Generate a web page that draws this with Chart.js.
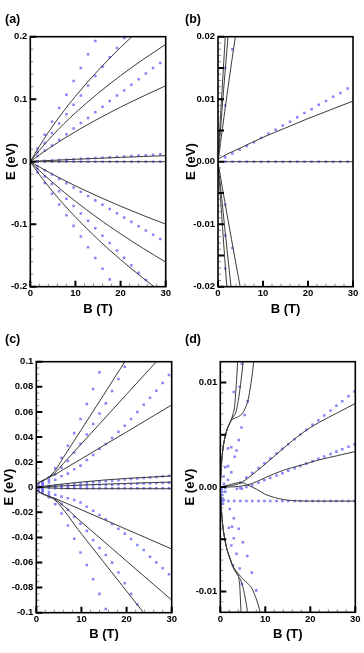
<!DOCTYPE html>
<html>
<head>
<meta charset="utf-8">
<script src="https://cdn.jsdelivr.net/npm/chart.js@4.4.1/dist/chart.umd.min.js"></script>
<style>
  html, body { margin: 0; padding: 0; background: #fff; }
  #wrap { position: relative; width: 364px; height: 653px; overflow: hidden; }
  .pane { position: absolute; }
  .tag { position: absolute; font: bold 12.5px "Liberation Sans", Arial, sans-serif; line-height: 1; color: #000; }
</style>
</head>
<body>
<div id="wrap">
  <div class="pane" style="left:0;top:0"><canvas id="ca" width="182" height="320"></canvas></div>
  <div class="pane" style="left:182px;top:0"><canvas id="cb" width="182" height="320"></canvas></div>
  <div class="pane" style="left:0;top:320px"><canvas id="cc" width="182" height="333"></canvas></div>
  <div class="pane" style="left:182px;top:320px"><canvas id="cd" width="182" height="333"></canvas></div>
  <div class="tag" style="left:5px;top:13px">(a)</div>
  <div class="tag" style="left:185px;top:13px">(b)</div>
  <div class="tag" style="left:5px;top:333px">(c)</div>
  <div class="tag" style="left:185px;top:333px">(d)</div>
</div>
<script>
// ---- axis ticks / labels ----
const xTicks = [0, 10, 20, 30];
const xLabels = ["0", "10", "20", "30"];
const yTicksA = [-0.2, -0.1, 0, 0.1, 0.2];
const yLabelsA = ["-0.2", "-0.1", "0", "0.1", "0.2"];
const yTicksB = [-0.02, -0.01, 0, 0.01, 0.02];
const yLabelsB = ["-0.02", "-0.01", "0.00", "0.01", "0.02"];
const yTicksC = [-0.1, -0.08, -0.06, -0.04, -0.02, 0, 0.02, 0.04, 0.06, 0.08, 0.1];
const yLabelsC = ["-0.1", "-0.08", "-0.06", "-0.04", "-0.02", "0", "0.02", "0.04", "0.06", "0.08", "0.1"];
const yTicksD = [-0.01, 0, 0.01];
const yLabelsD = ["-0.01", "0.00", "0.01"];

// ---- panels (a) and (b): same data, (b) is a zoom of (a) ----
const aB = [1.6, 3.2, 4.8, 6.4, 8.0, 9.6, 11.2, 12.8, 14.4, 16.0, 17.6, 19.2, 20.8, 22.4, 24.0, 25.6, 27.2, 28.8];
const aDotUp1 = [0.021, 0.043, 0.064, 0.086, 0.107, 0.129, 0.150, 0.172, 0.193];
const aDotUp2 = [0.015, 0.030, 0.046, 0.061, 0.076, 0.091, 0.106, 0.122, 0.137, 0.152, 0.167, 0.182, 0.198];
const aDotUp3 = [0.009, 0.018, 0.026, 0.035, 0.044, 0.053, 0.062, 0.070, 0.079, 0.088, 0.097, 0.106, 0.114, 0.123, 0.132, 0.141, 0.150, 0.158];
const aDotMid1 = [0.0007, 0.0013, 0.0019, 0.0025, 0.0031, 0.0038, 0.0045, 0.0051, 0.0058, 0.0064, 0.0071, 0.0078, 0.0084, 0.0091, 0.0097, 0.0104, 0.0110, 0.0117];
const aDotMid0 = [0, 0, 0, 0, 0, 0, 0, 0, 0, 0, 0, 0, 0, 0, 0, 0, 0, 0];
const aDotDn1 = [-0.0069, -0.0138, -0.0206, -0.0275, -0.0344, -0.0413, -0.0482, -0.0550, -0.0619, -0.0688, -0.0757, -0.0826, -0.0894, -0.0963, -0.1032, -0.1101, -0.1170, -0.1238];
const aDotDn2 = [-0.0118, -0.0237, -0.0355, -0.0474, -0.0592, -0.0710, -0.0829, -0.0947, -0.1066, -0.1184, -0.1302, -0.1421, -0.1539, -0.1658, -0.1776, -0.1894];
const aDotDn3 = [-0.0171, -0.0342, -0.0514, -0.0685, -0.0856, -0.1027, -0.1198, -0.1370, -0.1541, -0.1712, -0.1883];

const aLineUp1 = [[0, 0], [0.5, 0.0064], [1, 0.0126], [2, 0.0246], [3, 0.036], [5, 0.0574], [7.5, 0.082], [10, 0.1047], [15, 0.1459], [20, 0.1829], [25, 0.2167]];
const aLineUp2 = [[0, 0], [1, 0.0093], [2, 0.0181], [3, 0.0266], [5, 0.0425], [7.5, 0.061], [10, 0.0782], [15, 0.1094], [20, 0.1377], [25, 0.1636], [30, 0.1877]];
const aLineUp3 = [[0, 0], [1, 0.0054], [2, 0.0107], [3, 0.0158], [4, 0.0207], [5, 0.0255], [7.5, 0.0371], [10, 0.0481], [15, 0.0685], [20, 0.0873], [25, 0.1048], [30, 0.1215]];
const aLineMid1 = [[0, 0.0004], [2, 0.0012], [5, 0.0022], [10, 0.0039], [15, 0.0054], [20, 0.0069], [25, 0.0083], [30, 0.0097]];
const aLineMid0 = [[0, 0], [30, 0]];
const aLineDn1 = [[0, 0], [1, -0.0043], [2, -0.0084], [4, -0.0164], [5, -0.0203], [7.5, -0.0297], [10, -0.0387], [15, -0.0555], [20, -0.0712], [25, -0.086], [30, -0.0999]];
const aLineDn2 = [[0, 0], [1, -0.0071], [2, -0.014], [3, -0.0207], [5, -0.0336], [7.5, -0.0489], [10, -0.0634], [15, -0.0904], [20, -0.1154], [25, -0.1387], [30, -0.1606]];
const aLineDn3 = [[0, 0], [1, -0.0105], [2, -0.0204], [3, -0.03], [5, -0.0481], [7.5, -0.0691], [10, -0.0886], [15, -0.1244], [20, -0.1567], [25, -0.1864], [30, -0.214]];

// ---- panel (c) ----
const cB = [1.4, 2.8, 4.2, 5.6, 7.0, 8.4, 9.8, 11.2, 12.6, 14.0, 15.4, 16.8, 18.2, 19.6, 21.0, 22.4, 23.8, 25.2, 26.6, 28.0, 29.4];
const cDotUp1 = [0.004, 0.008, 0.015, 0.0235, 0.033, 0.0431, 0.0543, 0.0663, 0.0782, 0.0915];
const cDotUp2 = [0.003, 0.006, 0.0102, 0.0155, 0.0209, 0.0277, 0.0346, 0.042, 0.0503, 0.0588, 0.0668, 0.0766, 0.0862, 0.096];
const cDotUp3 = [0.002, 0.004, 0.006, 0.0087, 0.0108, 0.0143, 0.0172, 0.0217, 0.0257, 0.0304, 0.0344, 0.0392, 0.0442, 0.049, 0.0543, 0.0599, 0.0657, 0.0713, 0.0769, 0.083, 0.0894];
const cDotMid1 = [0.0004, 0.0009, 0.0013, 0.0017, 0.0022, 0.0026, 0.003, 0.0035, 0.0039, 0.0043, 0.0048, 0.0052, 0.0056, 0.0061, 0.0065, 0.0069, 0.0074, 0.0078, 0.0082, 0.0087, 0.0091];
const cDotMid2 = [0.0002, 0.0003, 0.0005, 0.0007, 0.0008, 0.001, 0.0012, 0.0013, 0.0015, 0.0017, 0.0018, 0.002, 0.0022, 0.0024, 0.0025, 0.0027, 0.0029, 0.003, 0.0032, 0.0034, 0.0035];
const cDotMid3 = [-0.0009, -0.0009, -0.0009, -0.0009, -0.0009, -0.0009, -0.0009, -0.0009, -0.0009, -0.0009, -0.0009, -0.0009, -0.0009, -0.0009, -0.0009, -0.0009, -0.0009, -0.0009, -0.0009, -0.0009, -0.0009];
const cDotDn1 = [-0.002, -0.004, -0.006, -0.0075, -0.0088, -0.0102, -0.0122, -0.0155, -0.0187, -0.0222, -0.0256, -0.0293, -0.0331, -0.037, -0.0413, -0.0461, -0.05, -0.0554, -0.0599, -0.0646, -0.0694];
const cDotDn2 = [-0.003, -0.006, -0.0095, -0.0135, -0.018, -0.0235, -0.0292, -0.0348, -0.042, -0.0485, -0.054, -0.0601, -0.068, -0.0765, -0.085, -0.0935];
const cDotDn3 = [-0.004, -0.008, -0.0135, -0.021, -0.0305, -0.041, -0.052, -0.062, -0.0734, -0.085, -0.097];
const cDotNear = [[0.5, 0.0025], [0.5, 0.0005], [0.5, -0.0015], [0.5, -0.003]];

const cLineUp1 = [[0, 0.0022], [1, 0.0045], [2, 0.0062], [3, 0.0088], [4, 0.0125], [6, 0.0237], [10, 0.046], [15, 0.074], [20, 0.1022]];
const cLineUp2 = [[0, 0.0022], [1, 0.0045], [2, 0.0062], [3, 0.0085], [4, 0.011], [6, 0.0189], [10, 0.0346], [15, 0.0543], [20, 0.074], [25, 0.0937], [30, 0.1134]];
const cLineUp3 = [[0, 0.0022], [1, 0.0045], [2, 0.0062], [3, 0.0082], [4, 0.0098], [6, 0.0141], [10, 0.0226], [15, 0.0334], [20, 0.044], [25, 0.0548], [30, 0.0655]];
const cLineMid1 = [[0, 0], [2, 0.0009], [5, 0.0022], [10, 0.0041], [15, 0.0057], [20, 0.007], [25, 0.008], [30, 0.0089]];
const cLineMid2 = [[0, 0], [2, 0.0004], [5, 0.0009], [10, 0.0017], [15, 0.0024], [20, 0.003], [25, 0.0036], [30, 0.0041]];
const cLineMid3 = [[0, 0], [3, -0.0006], [6, -0.001], [10, -0.0012], [20, -0.0012], [30, -0.0012]];
const cLineDn1 = [[0, -0.0022], [1, -0.0045], [2, -0.0062], [3, -0.0075], [4, -0.0088], [10, -0.018], [15, -0.0258], [20, -0.0336], [25, -0.0414], [30, -0.0492]];
const cLineDn2 = [[0, -0.0022], [1, -0.0045], [2, -0.0062], [3, -0.0077], [4, -0.0092], [10, -0.0278], [15, -0.0433], [20, -0.0589], [25, -0.0744], [30, -0.0899]];
const cLineDn3 = [[0, -0.0022], [1, -0.0045], [2, -0.0062], [3, -0.0079], [4, -0.0098], [10, -0.0372], [15, -0.06], [20, -0.0828], [25, -0.1056]];

// ---- panel (d) ----
const dB = [0.45, 1.8, 3.1, 4.45, 5.8, 7.1, 8.5, 9.8, 11.1, 12.5, 13.8, 15.1, 16.5, 17.8, 19.1, 20.5, 21.8, 23.1, 24.5, 25.8, 27.1, 28.5, 29.8];
const dDotFlat = [-0.00135, -0.00135, -0.00135, -0.00135, -0.00135, -0.00135, -0.00135, -0.00135, -0.00135, -0.00135, -0.00135, -0.00135, -0.00135, -0.00135, -0.00135, -0.00135, -0.00135, -0.00135, -0.00135, -0.00135, -0.00135, -0.00135, -0.00135];
const dDotUp = [0.00043, 0.0009, 0.00134, 0.00182, 0.00227, 0.00272, 0.0032, 0.00365, 0.00409, 0.00458, 0.00502, 0.00547, 0.00595, 0.0064, 0.00685, 0.00733, 0.00778, 0.00822, 0.0087, 0.00915];
const dDotLow = [-0.0001, 0.0, 0.00017, 0.00041, 0.00064, 0.00086, 0.0011, 0.00132, 0.00155, 0.00179, 0.00201, 0.00224, 0.00248, 0.0027, 0.00292, 0.00316, 0.00339, 0.00361, 0.00385, 0.00408];
const dDotNear = [
  [3.0, 0.0091], [4.3, 0.0096], [4.8, 0.0118], [6.1, 0.0082], [5.4, 0.0069], [4.7, 0.0057], [4.1, 0.0045],
  [2.45, 0.0038], [1.7, 0.0037], [3.6, 0.0035], [1.7, 0.002], [2.45, 0.0014], [3.2, 0.0029], [1.1, 0.0019],
  [1.7, 0.0007], [0.74, 0.001], [3.7, -0.00016], [4.8, -0.00016],
  [2.1, -0.0021], [3.0, -0.003], [1.9, -0.0039], [2.6, -0.0038], [4.1, -0.004], [3.0, -0.0049], [5.0, -0.0053],
  [2.45, -0.0056], [3.6, -0.0064], [6.0, -0.0066], [2.8, -0.0075], [4.3, -0.0078], [7.0, -0.0082], [4.8, -0.0093],
  [8.0, -0.0099], [0.45, -0.00045], [0.45, -0.00077], [0.45, -0.0011], [0.8, -0.00125], [1.1, -0.00045],
  [1.1, -0.0001], [0.6, -0.0016], [0.3, -0.0002], [0.8, 0.0003]
];

const dUpStem = [[0, 0], [0.15, 0.0015], [0.35, 0.0027], [0.6, 0.0037], [1.0, 0.0047], [1.5, 0.0055], [2.2, 0.0062]];
const dDnStem = [[0, 0], [0.15, -0.0015], [0.35, -0.0028], [0.6, -0.0039], [1.0, -0.005], [1.5, -0.006], [2.2, -0.0069], [2.6, -0.0074]];
const dLineUp1 = [...dUpStem, [2.7, 0.0068], [3.2, 0.0078], [3.5, 0.0095], [3.7, 0.0108], [3.9, 0.0125]];
const dLineUp2 = [...dUpStem, [2.8, 0.0067], [3.5, 0.0072], [4.0, 0.0083], [4.5, 0.0098], [4.9, 0.0113], [5.2, 0.0125]];
const dLineUp3 = [...dUpStem, [2.8, 0.0065], [3.8, 0.0067], [4.8, 0.007], [5.5, 0.0075], [6.2, 0.0084], [6.8, 0.0099], [7.3, 0.0115], [7.5, 0.0125]];
const dLineDn1 = [...dDnStem, [3.1, -0.0079], [3.6, -0.0082], [4.1, -0.0087], [4.35, -0.0097], [4.5, -0.011], [4.65, -0.0125]];
const dLineDn2 = [...dDnStem, [3.1, -0.0079], [3.8, -0.0084], [4.6, -0.009], [5.2, -0.0099], [5.6, -0.0108], [6.0, -0.0118], [6.2, -0.0125]];
const dLineDn3 = [...dDnStem, [3.1, -0.0078], [4.0, -0.0083], [5.0, -0.0088], [6.0, -0.0092], [7.0, -0.0097], [7.8, -0.0105], [8.5, -0.0114], [9.1, -0.0125]];
const dLineMid1 = [[0, 0], [2, 0.0001], [4, 0.0003], [6, 0.0008], [8, 0.0015], [10, 0.0022], [14, 0.0037], [18, 0.0051], [22, 0.0062], [26, 0.0071], [30, 0.008]];
const dLineMid2 = [[0, 0], [2, 0], [4, 0.00005], [6, 0.0002], [8, 0.0005], [10, 0.0009], [14, 0.0016], [18, 0.0021], [22, 0.0026], [26, 0.003], [30, 0.0034]];
const dLineMid3 = [[0, 0], [2, 0.0002], [4, 0.0004], [5, 0.0004], [6, 0.0002], [8, -0.0002], [10, -0.0007], [12, -0.001], [14, -0.0012], [16, -0.0013], [20, -0.00135], [30, -0.00135]];

// ---- styling ----
const FAMILY = "'Liberation Sans', Arial, sans-serif";
const LINE_COLOR = "#3a3a3a";
const DOT_COLOR = "rgba(88, 88, 242, 0.72)";
const tickFont = { family: FAMILY, size: 9.5, weight: "bold" };
const titleFont = { family: FAMILY, size: 13, weight: "bold", lineHeight: 1.2 };

// frame plus inward major/minor ticks, placed through the chart's own scales
const frameTicks = {
  id: "frameTicks",
  afterDatasetsDraw(chart, args, opts) {
    const { ctx, chartArea: a } = chart;
    const xs = chart.scales.x, ys = chart.scales.y;
    const each = (scale, step, fn) => {
      let v = Math.ceil(scale.min / step - 1e-6) * step;
      for (; v <= scale.max + 1e-9; v += step) fn(scale.getPixelForValue(v));
    };
    ctx.save();
    ctx.strokeStyle = "#8c8c8c";
    ctx.lineWidth = 1;
    ctx.beginPath();
    each(xs, opts.xMinor, (p) => { ctx.moveTo(p, a.bottom); ctx.lineTo(p, a.bottom - 3); });
    each(ys, opts.yMinor, (p) => { ctx.moveTo(a.left, p); ctx.lineTo(a.left + 3, p); });
    ctx.stroke();
    ctx.strokeStyle = "#000";
    ctx.lineWidth = 2;
    ctx.beginPath();
    each(xs, opts.xMajor, (p) => { ctx.moveTo(p, a.bottom); ctx.lineTo(p, a.bottom - 6); });
    each(ys, opts.yMajor, (p) => { ctx.moveTo(a.left, p); ctx.lineTo(a.left + 6, p); });
    ctx.stroke();
    ctx.lineWidth = 1.6;
    ctx.strokeRect(a.left, a.top, a.right - a.left, a.bottom - a.top);
    ctx.restore();
  },
};
Chart.register(frameTicks);

const dots = (bs, es) => ({
  data: es.map((e, i) => ({ x: bs[i], y: e })),
  showLine: false,
  pointStyle: "rect",
  pointRadius: 1.8,
  backgroundColor: DOT_COLOR,
  borderWidth: 0,
  order: 2,
});
const pairDots = (pts) => ({
  data: pts.map(([x, y]) => ({ x, y })),
  showLine: false,
  pointStyle: "rect",
  pointRadius: 1.8,
  backgroundColor: DOT_COLOR,
  borderWidth: 0,
  order: 2,
});
const curve = (pts) => ({
  data: pts.map(([x, y]) => ({ x, y })),
  showLine: true,
  pointRadius: 0,
  borderColor: LINE_COLOR,
  borderWidth: 1,
  cubicInterpolationMode: "monotone",
  fill: false,
  order: 1,
});

function panel(id, cfg) {
  return new Chart(document.getElementById(id), {
    type: "scatter",
    data: { datasets: cfg.datasets },
    options: {
      responsive: false,
      animation: false,
      events: [],
      layout: { padding: cfg.pad },
      plugins: {
        legend: { display: false },
        tooltip: { enabled: false },
        frameTicks: { xMajor: 10, xMinor: 2, yMajor: cfg.yMajor, yMinor: cfg.yMinor },
      },
      scales: {
        x: {
          type: "linear",
          min: 0,
          max: 30,
          afterBuildTicks: (s) => { s.ticks = xTicks.map((v) => ({ value: v })); },
          afterFit: (s) => { s.height = cfg.xHeight; },
          grid: { display: false, drawTicks: false },
          border: { display: false },
          ticks: { font: tickFont, color: "#000", padding: 1, maxRotation: 0, autoSkip: false,
                   callback: (v, i) => xLabels[i] },
          title: { display: true, text: "B (T)", font: titleFont, color: "#000",
                   padding: { top: 0, bottom: cfg.xTitlePad } },
        },
        y: {
          type: "linear",
          min: cfg.yMin,
          max: cfg.yMax,
          afterBuildTicks: (s) => { s.ticks = cfg.yTicks.map((v) => ({ value: v })); },
          afterFit: (s) => { s.width = cfg.yWidth; },
          grid: { display: false, drawTicks: false },
          border: { display: false },
          ticks: { font: tickFont, color: "#000", padding: 3, autoSkip: false,
                   callback: (v, i) => cfg.yLabels[i] },
          title: { display: true, text: "E (eV)", font: titleFont, color: "#000",
                   padding: { top: 0, bottom: 0 } },
        },
      },
    },
  });
}

const abDatasets = () => [
  dots(aB, aDotUp1), dots(aB, aDotUp2), dots(aB, aDotUp3),
  dots(aB, aDotMid1), dots(aB, aDotMid0),
  dots(aB, aDotDn1), dots(aB, aDotDn2), dots(aB, aDotDn3),
  curve(aLineUp1), curve(aLineUp2), curve(aLineUp3),
  curve(aLineMid1), curve(aLineMid0),
  curve(aLineDn1), curve(aLineDn2), curve(aLineDn3),
];

panel("ca", {
  datasets: abDatasets(),
  yMin: -0.2, yMax: 0.2, yTicks: yTicksA, yLabels: yLabelsA, yMajor: 0.1, yMinor: 0.02,
  pad: { left: 4, right: 16.3, top: 36.7, bottom: 0 }, yWidth: 26.3, xHeight: 33.3, xTitlePad: 3.2,
});

panel("cb", {
  datasets: abDatasets(),
  yMin: -0.02, yMax: 0.02, yTicks: yTicksB, yLabels: yLabelsB, yMajor: 0.005, yMinor: 0.001,
  pad: { left: 2, right: 11, top: 36.7, bottom: 0 }, yWidth: 34, xHeight: 33.3, xTitlePad: 3.2,
});

panel("cc", {
  datasets: [
    dots(cB, cDotUp1), dots(cB, cDotUp2), dots(cB, cDotUp3),
    dots(cB, cDotMid1), dots(cB, cDotMid2), dots(cB, cDotMid3),
    dots(cB, cDotDn1), dots(cB, cDotDn2), dots(cB, cDotDn3), pairDots(cDotNear),
    curve(cLineUp1), curve(cLineUp2), curve(cLineUp3),
    curve(cLineMid1), curve(cLineMid2), curve(cLineMid3),
    curve(cLineDn1), curve(cLineDn2), curve(cLineDn3),
  ],
  yMin: -0.1, yMax: 0.1, yTicks: yTicksC, yLabels: yLabelsC, yMajor: 0.02, yMinor: 0.005,
  pad: { left: 2, right: 10.3, top: 41.7, bottom: 0 }, yWidth: 34.3, xHeight: 40.3, xTitlePad: 11,
});

panel("cd", {
  datasets: [
    dots(dB, dDotFlat), dots(dB.slice(3), dDotUp), dots(dB.slice(3), dDotLow), pairDots(dDotNear),
    curve(dLineUp1), curve(dLineUp2), curve(dLineUp3),
    curve(dLineDn1), curve(dLineDn2), curve(dLineDn3),
    curve(dLineMid1), curve(dLineMid2), curve(dLineMid3),
  ],
  yMin: -0.012, yMax: 0.012, yTicks: yTicksD, yLabels: yLabelsD, yMajor: 0.005, yMinor: 0.001,
  pad: { left: 0.5, right: 8.7, top: 41.7, bottom: 0 }, yWidth: 37.8, xHeight: 40.7, xTitlePad: 11,
});
</script>
</body>
</html>
